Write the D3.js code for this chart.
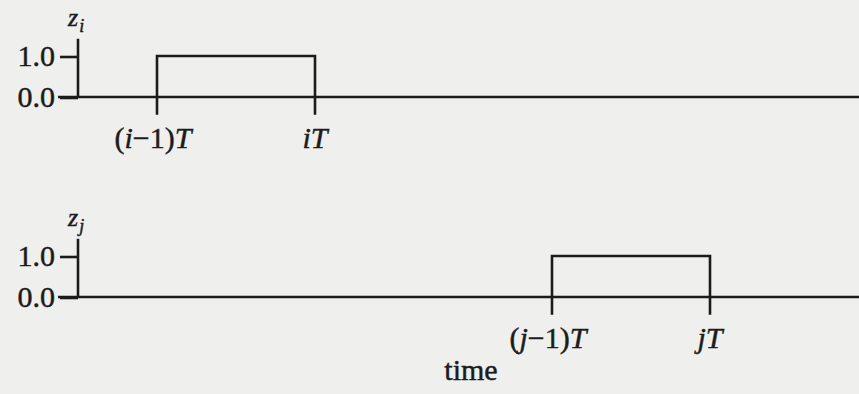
<!DOCTYPE html>
<html>
<head>
<meta charset="utf-8">
<script src="https://cdn.jsdelivr.net/npm/d3@7/dist/d3.min.js"></script>
<style>
  html, body { margin: 0; padding: 0; background: #efefed; }
  svg { display: block; }
  text { font-family: "Liberation Serif", "Times New Roman", serif; fill: #1b1b1b;
         stroke: #1b1b1b; stroke-width: 0.45px; }
</style>
</head>
<body>
<svg id="chart" width="859" height="394"></svg>
<script>
// Time axis, in units of the sampling period T
const timeDomain = [0, 4.95];

// One row per indicator signal z_k: a unit pulse on [(k-1)T, kT]
const signalNames = ["i", "j"];
const pulseStart = [0.5, 3.0];
const pulseEnd = [1.5, 4.0];
const pulseLevel = [1.0, 1.0];
const yTickValues = [0.0, 1.0];
const yTickLabels = ["0.0", "1.0"];
const axisLabel = "time";

const W = 859, H = 394;
const originX = 78;
const rowBaseline = [97, 297];
const rowHeight = 41;          // pixels for one unit of z
const ink = "#1b1b1b";
const fontSize = 30;

const svg = d3.select("#chart");

const x = d3.scaleLinear().domain(timeDomain).range([originX, originX + 158 * timeDomain[1]]);

signalNames.forEach((name, k) => {
  const base = rowBaseline[k];
  const y = d3.scaleLinear().domain([0, 1]).range([base, base - rowHeight]);
  const g = svg.append("g");

  // horizontal time axis, starting at the 0.0 tick
  g.append("line")
    .attr("x1", originX - 20).attr("x2", W)
    .attr("y1", y(0)).attr("y2", y(0))
    .attr("stroke", ink).attr("stroke-width", 2.6);

  // vertical z axis
  g.append("line")
    .attr("x1", originX).attr("x2", originX)
    .attr("y1", y(0)).attr("y2", y(1.42))
    .attr("stroke", ink).attr("stroke-width", 2.6);

  // y ticks and their labels
  const yAxis = d3.axisLeft(y)
    .tickValues(yTickValues)
    .tickFormat((d, i) => yTickLabels[i])
    .tickSizeInner(18).tickSizeOuter(0).tickPadding(5);
  const ya = g.append("g").attr("transform", `translate(${originX},0)`).call(yAxis);
  ya.select(".domain").remove();
  ya.selectAll(".tick line").attr("stroke", ink).attr("stroke-width", 2.6)
    .attr("transform", "translate(0,0.5)");
  ya.selectAll(".tick text")
    .attr("font-size", fontSize).attr("fill", ink)
    .attr("dy", "0.3em");

  // z_k label above the axis
  const zl = g.append("text")
    .attr("x", originX - 10).attr("y", base - 71)
    .attr("font-size", 26);
  zl.append("tspan").attr("font-style", "italic").text("z");
  zl.append("tspan").attr("font-style", "italic").attr("font-size", 18)
    .attr("dy", 6).attr("dx", 1).text(name);

  // the pulse
  const t0 = pulseStart[k], t1 = pulseEnd[k], v = pulseLevel[k];
  const path = d3.line()([
    [x(t0), y(-0.43)], [x(t0), y(v)], [x(t1), y(v)], [x(t1), y(-0.43)]
  ]);
  g.append("path").attr("d", path)
    .attr("fill", "none").attr("stroke", ink).attr("stroke-width", 2.6)
    .attr("stroke-linejoin", "miter");

  // edge labels (k-1)T and kT
  const labY = y(0) + 51;
  const l0 = g.append("text").attr("x", x(t0) - 4).attr("y", labY)
    .attr("text-anchor", "middle").attr("font-size", fontSize);
  l0.append("tspan").text("(");
  l0.append("tspan").attr("font-style", "italic").text(name);
  l0.append("tspan").text("\u2212");
  l0.append("tspan").text("1)");
  l0.append("tspan").attr("font-style", "italic").text("T");

  const l1 = g.append("text").attr("x", x(t1)).attr("y", labY)
    .attr("text-anchor", "middle").attr("font-size", fontSize)
    .attr("font-style", "italic");
  l1.text(name + "T");
});

// time axis title
svg.append("text")
  .attr("x", 471).attr("y", 380)
  .attr("text-anchor", "middle").attr("font-size", fontSize)
  .text(axisLabel);
</script>
</body>
</html>
